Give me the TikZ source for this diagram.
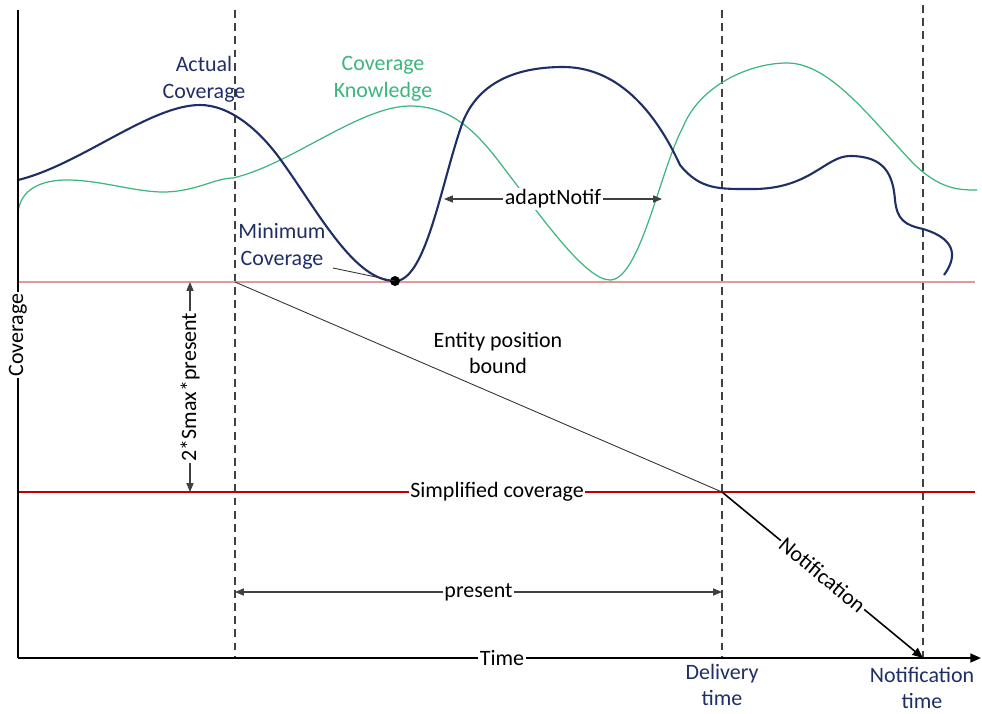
\documentclass[tikz,border=0pt]{standalone}
\usepackage{fontspec}
\setmainfont{Carlito}
\usetikzlibrary{arrows.meta}

\definecolor{actualblue}{HTML}{1F2F66}
\definecolor{knowgreen}{HTML}{3CB67E}
\definecolor{minred}{HTML}{E09A9A}
\definecolor{simpred}{HTML}{C00000}

\tikzset{
  lbl/.style={fill=white, inner sep=1pt, align=center, text=black,
    font=\fontsize{12.5}{15.3}\selectfont},
  guide/.style={dash pattern=on 4.5pt off 3pt, line width=0.7pt, black!75},
  dimarrow/.style={{Triangle[length=5pt,width=4pt]}-{Triangle[length=5pt,width=4pt]},
    line width=0.6pt, black!75},
}

\begin{document}
\begin{tikzpicture}[x=0.02cm, y=-0.02cm]
    \useasboundingbox (0,0) rectangle (982,713);
    % reference points
    \coordinate (o) at (18,658);
    \coordinate (ytop) at (18,10);
    \coordinate (xend) at (981,658);
    \coordinate (tnow) at (235,282);
    \coordinate (tdel) at (722,492);
    \coordinate (tnot) at (923,658);
    \coordinate (minpt) at (395,281);
    % time markers
    \draw[guide] (235,10) -- (235,658);
    \draw[guide] (722,10) -- (722,658);
    \draw[guide] (923,5) -- (923,658);
    % coverage levels
    \draw[minred, line width=0.8pt] (18,282) -- (975,282);
    \draw[simpred, line width=0.9pt] (18,492) -- (975,492);
    % coverage knowledge
    \draw[knowgreen, line width=0.7pt] (18,213)
      .. controls (20,190) and (40,180) .. (67,180)
      .. controls (100,180) and (135,192) .. (163,192)
      .. controls (195,192) and (215,178) .. (233,178)
      .. controls (290,165) and (360,106) .. (410,106)
      .. controls (450,106) and (475,130) .. (500,163)
      .. controls (540,215) and (585,280) .. (610,280)
      .. controls (640,280) and (660,170) .. (683,127)
      .. controls (700,85) and (750,63) .. (787,63)
      .. controls (830,63) and (870,118) .. (913,163)
      .. controls (940,190) and (960,190) .. (977,190);
    % actual coverage
    \draw[actualblue, line width=1.2pt] (18,180)
      .. controls (80,165) and (150,105) .. (200,105)
      .. controls (230,105) and (260,130) .. (283,163)
      .. controls (320,215) and (355,281) .. (minpt)
      .. controls (425,281) and (440,190) .. (460,130)
      .. controls (475,80) and (520,67) .. (563,67)
      .. controls (610,67) and (650,100) .. (680,165)
      .. controls (700,190) and (720,189) .. (750,189)
      .. controls (810,190) and (825,156) .. (850,156)
      .. controls (885,156) and (893,175) .. (895,200)
      .. controls (897,220) and (905,225) .. (923,229)
      .. controls (960,240) and (955,260) .. (944,275);
    \fill (minpt) circle[radius=5];
    % bounds
    \draw[black!80, line width=0.5pt] (tnow) -- (tdel);
    \draw[-{Triangle[length=6pt,width=5pt]}, line width=0.9pt] (tdel) -- (tnot)
      node[lbl, midway, sloped] (notiflbl) {Notification};
    % axes
    \draw[line width=1pt] (o) -- (ytop);
    \draw[line width=1pt, -{Triangle[length=6pt,width=5pt]}] (o) -- (xend);
    \node[lbl, rotate=90] (ylbl) at (18,335) {Coverage};
    \node[lbl] (xlbl) at (502,658) {Time};
    % dimensions
    \draw[dimarrow] (190,282) -- (190,492)
      node[lbl, midway, rotate=90] (smaxlbl) {2*Smax*present};
    \draw[dimarrow] (235,592) -- (722,592)
      node[lbl, pos=0.5] (presentlbl) {present};
    \draw[dimarrow] (444,199) -- (662,199)
      node[lbl, midway] (adaptlbl) {adaptNotif};
    % labels
    \node[lbl] (simplbl) at (497,492) {Simplified coverage};
    \node[lbl, fill=none] (entitylbl) at (498,353) {Entity position\\bound};
    \node[lbl, fill=none, text=actualblue] (actlbl) at (204,79) {Actual\\Coverage};
    \node[lbl, fill=none, text=knowgreen] (knowlbl) at (383,79) {Coverage\\Knowledge};
    \node[lbl, fill=none, text=actualblue] (minlbl) at (282,246) {Minimum\\Coverage};
    \draw[black!80, line width=0.5pt] (333,268) -- (minpt);
    \node[lbl, fill=none, text=actualblue] (dellbl) at (722,685) {Delivery\\time};
    \node[lbl, fill=none, text=actualblue] (notlbl) at (922,688) {Notification\\time};
\end{tikzpicture}
\end{document}
